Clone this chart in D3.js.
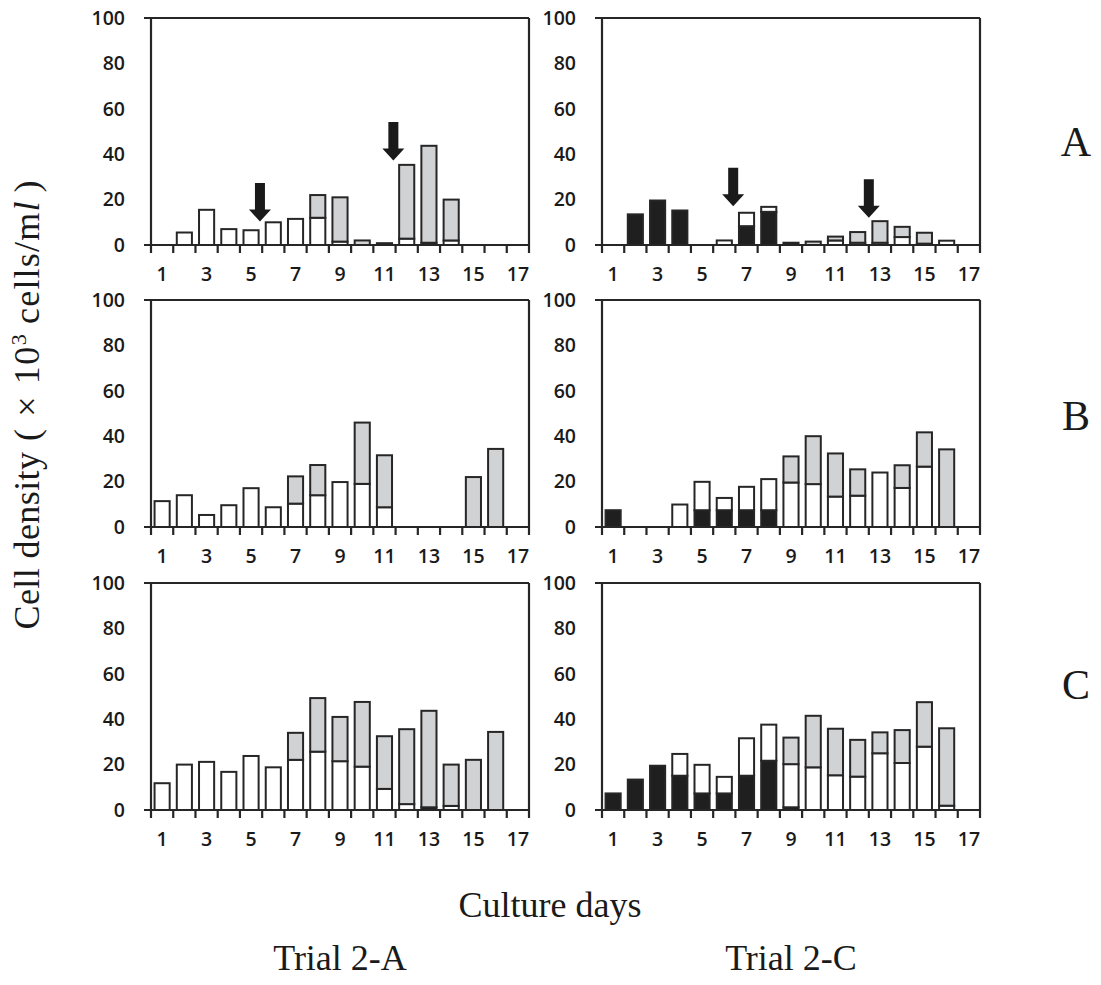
<!DOCTYPE html>
<html>
<head>
<meta charset="utf-8">
<script src="https://cdn.jsdelivr.net/npm/d3@7"></script>
<style>
  html, body { margin: 0; padding: 0; background: #ffffff; }
  svg { display: block; }
</style>
</head>
<body>
<svg id="chart" width="1101" height="985"></svg>
<script>
// ---------------- data ----------------
const days = d3.range(1, 18);               // culture days 1..17
const dayTickLabels = [1, 3, 5, 7, 9, 11, 13, 15, 17];
const yTickValues = [0, 20, 40, 60, 80, 100];
const rowLabels = ["A", "B", "C"];
const colLabels = ["Trial 2-A", "Trial 2-C"];

// Trial 2-A, treatment A
const a2A_black = [0,0,0,0,0,0,0,0,0,0,0,0,1,0,0,0,0];
const a2A_white = [0,5.5,15.5,7,6.5,10,11.5,12,1.5,0,0,2.8,0,2,0,0,0];
const a2A_gray  = [0,0,0,0,0,0,0,10,19.5,2,0.8,32.5,42.7,18,0,0,0];
// Trial 2-C, treatment A
const c2A_black = [0,13.5,19.6,15.2,0,0,8.3,14.6,1,0,0,0,0,0,0,0,0];
const c2A_white = [0,0,0,0,0,2,5.9,2.2,0,0,2,1,1,3.5,0.6,1.9,0];
const c2A_gray  = [0,0,0,0,0,0,0,0,0,1.5,1.7,4.7,9.5,4.5,4.8,0,0];
// Trial 2-A, treatment B
const a2B_black = [0,0,0,0,0,0,0,0,0,0,0,0,0,0,0,0,0];
const a2B_white = [11.4,14,5.3,9.6,17.1,8.7,10.3,14,19.8,19,8.7,0,0,0,0,0,0];
const a2B_gray  = [0,0,0,0,0,0,12,13.3,0,27,22.9,0,0,0,22,34.4,0];
// Trial 2-C, treatment B
const c2B_black = [7.4,0,0,0,7.4,7.4,7.4,7.4,0,0,0,0,0,0,0,0,0];
const c2B_white = [0,0,0,9.9,12.5,5.4,10.3,13.7,19.6,18.9,13.4,13.8,24,17.2,26.6,0,0];
const c2B_gray  = [0,0,0,0,0,0,0,0,11.5,21.1,19,11.6,0,10,15.1,34.2,0];
// Trial 2-A, treatment C
const a2C_black = [0,0,0,0,0,0,0,0,0,0,0,0,1.2,0,0,0,0];
const a2C_white = [11.8,20,21.2,16.8,23.8,18.8,22.1,25.7,21.5,19.1,9.3,2.6,0,1.8,0,0,0];
const a2C_gray  = [0,0,0,0,0,0,11.9,23.6,19.5,28.5,23.2,33,42.5,18.2,22.1,34.4,0];
// Trial 2-C, treatment C
const c2C_black = [7.3,13.4,19.5,15.1,7.3,7.3,15.1,21.7,1.2,0,0,0,0,0,0,0,0];
const c2C_white = [0,0,0,9.6,12.6,7.3,16.5,15.9,19,18.8,15.3,14.7,25,20.7,27.9,1.9,0];
const c2C_gray  = [0,0,0,0,0,0,0,0,11.7,22.7,20.5,16.2,9.2,14.5,19.6,34.1,0];

// arrows (annotation): day boundary after which the arrow sits, and value at the arrow tip
const a2A_arrowAfter = [4.9, 10.9];
const a2A_arrowTip   = [10.3, 37.2];
const c2A_arrowAfter = [5.9, 12.0];
const c2A_arrowTip   = [17.1, 12.0];

// ---------------- layout ----------------
const svg = d3.select("#chart");
const colX = [151, 602];
const rowY = [18, 300, 583];
const W = 378, H = 227;
const ink = "#262626";
const fills = { black: "#1f1f1f", white: "#ffffff", gray: "#d1d2d4" };
const keys = ["black", "white", "gray"];

const panels = [
  { r: 0, c: 0, black: a2A_black, white: a2A_white, gray: a2A_gray, arrAfter: a2A_arrowAfter, arrTip: a2A_arrowTip },
  { r: 0, c: 1, black: c2A_black, white: c2A_white, gray: c2A_gray, arrAfter: c2A_arrowAfter, arrTip: c2A_arrowTip },
  { r: 1, c: 0, black: a2B_black, white: a2B_white, gray: a2B_gray },
  { r: 1, c: 1, black: c2B_black, white: c2B_white, gray: c2B_gray },
  { r: 2, c: 0, black: a2C_black, white: a2C_white, gray: a2C_gray },
  { r: 2, c: 1, black: c2C_black, white: c2C_white, gray: c2C_gray }
];

const x = d3.scaleBand().domain(days).range([0, W]).paddingInner(0.32).paddingOuter(0.16);
const y = d3.scaleLinear().domain([0, 100]).range([H, 0]);
const step = x.step();

panels.forEach(p => {
  const g = svg.append("g").attr("transform", `translate(${colX[p.c]},${rowY[p.r]})`);
  const rows = days.map((d, i) => ({ day: d, black: p.black[i], white: p.white[i], gray: p.gray[i] }));
  const series = d3.stack().keys(keys)(rows);

  // bars
  series.forEach(s => {
    g.append("g").selectAll("rect")
      .data(s.filter(d => d[1] - d[0] > 0))
      .join("rect")
      .attr("x", d => x(d.data.day))
      .attr("width", x.bandwidth())
      .attr("y", d => y(d[1]))
      .attr("height", d => y(d[0]) - y(d[1]))
      .attr("fill", fills[s.key])
      .attr("stroke", ink)
      .attr("stroke-width", 2);
  });

  // frame
  const frame = g.append("g").attr("fill", "none").attr("stroke", ink).attr("stroke-width", 2.2);
  frame.append("line").attr("x1", -7).attr("x2", W).attr("y1", y(100)).attr("y2", y(100));
  frame.append("line").attr("x1", -7).attr("x2", W).attr("y1", y(0)).attr("y2", y(0));
  frame.append("line").attr("x1", 0).attr("x2", 0).attr("y1", y(100)).attr("y2", y(0));
  frame.append("line").attr("x1", W).attr("x2", W).attr("y1", y(100)).attr("y2", y(0));
  // tick marks at day boundaries
  const bounds = days.map(d => x(d) - step * x.paddingInner() / 2).concat([W]);
  frame.selectAll("line.tick").data(bounds).join("line")
    .attr("class", "tick")
    .attr("x1", d => d).attr("x2", d => d)
    .attr("y1", y(0)).attr("y2", y(0) + 8);

  // axes (labels only)
  const xa = g.append("g").attr("transform", `translate(0,${H})`)
    .call(d3.axisBottom(x).tickValues(dayTickLabels).tickSize(0).tickPadding(22));
  const ya = g.append("g")
    .call(d3.axisLeft(y).tickValues(yTickValues).tickSize(0).tickPadding(26));
  [xa, ya].forEach(a => {
    a.select(".domain").remove();
    a.selectAll("text")
      .attr("font-family", "'Open Sans', sans-serif")
      .attr("font-size", 19.5)
      .attr("font-weight", 600)
      .attr("fill", "#1a1a1a");
  });

  // arrows
  if (p.arrAfter) {
    p.arrAfter.forEach((after, i) => {
      const ax = after * step;
      const tipY = y(p.arrTip[i]);
      const len = 38.5, headL = 12, shaftW = 10, headW = 22;
      const topY = tipY - len, neckY = tipY - headL;
      const pts = [
        [ax - shaftW / 2, topY], [ax + shaftW / 2, topY], [ax + shaftW / 2, neckY],
        [ax + headW / 2, neckY], [ax, tipY], [ax - headW / 2, neckY], [ax - shaftW / 2, neckY]
      ];
      g.append("path").attr("d", d3.line()(pts) + "Z").attr("fill", "#1a1a1a");
    });
  }
});

// row letters
const serif = "'Liberation Serif', 'Times New Roman', serif";
const letterBase = [156, 430, 699];
rowLabels.forEach((t, i) => {
  svg.append("text").attr("x", 1076).attr("y", letterBase[i])
    .attr("text-anchor", "middle").attr("font-family", serif)
    .attr("font-size", 42).attr("fill", "#1a1a1a").text(t);
});

// column labels
[340, 791].forEach((cx, i) => {
  svg.append("text").attr("x", cx).attr("y", 970)
    .attr("text-anchor", "middle").attr("font-family", serif)
    .attr("font-size", 36).attr("fill", "#1a1a1a").text(colLabels[i]);
});

// x title
svg.append("text").attr("x", 550).attr("y", 917)
  .attr("text-anchor", "middle").attr("font-family", serif)
  .attr("font-size", 36).attr("fill", "#1a1a1a").text("Culture days");

// y title
const yt = svg.append("text")
  .attr("transform", "translate(39,405) rotate(-90)")
  .attr("text-anchor", "middle").attr("font-family", serif)
  .attr("font-size", 36).attr("fill", "#1a1a1a");
yt.append("tspan").attr("letter-spacing", 0.4).text("Cell density");
yt.append("tspan").attr("letter-spacing", 1.6).text("  (  × 10");
yt.append("tspan").attr("font-size", 22).attr("dy", -13).text("3");
yt.append("tspan").attr("dy", 13).attr("letter-spacing", 1.2).text(" cells/m");
yt.append("tspan").attr("font-style", "italic").text("l");
yt.append("tspan").text("  )");
</script>
</body>
</html>
